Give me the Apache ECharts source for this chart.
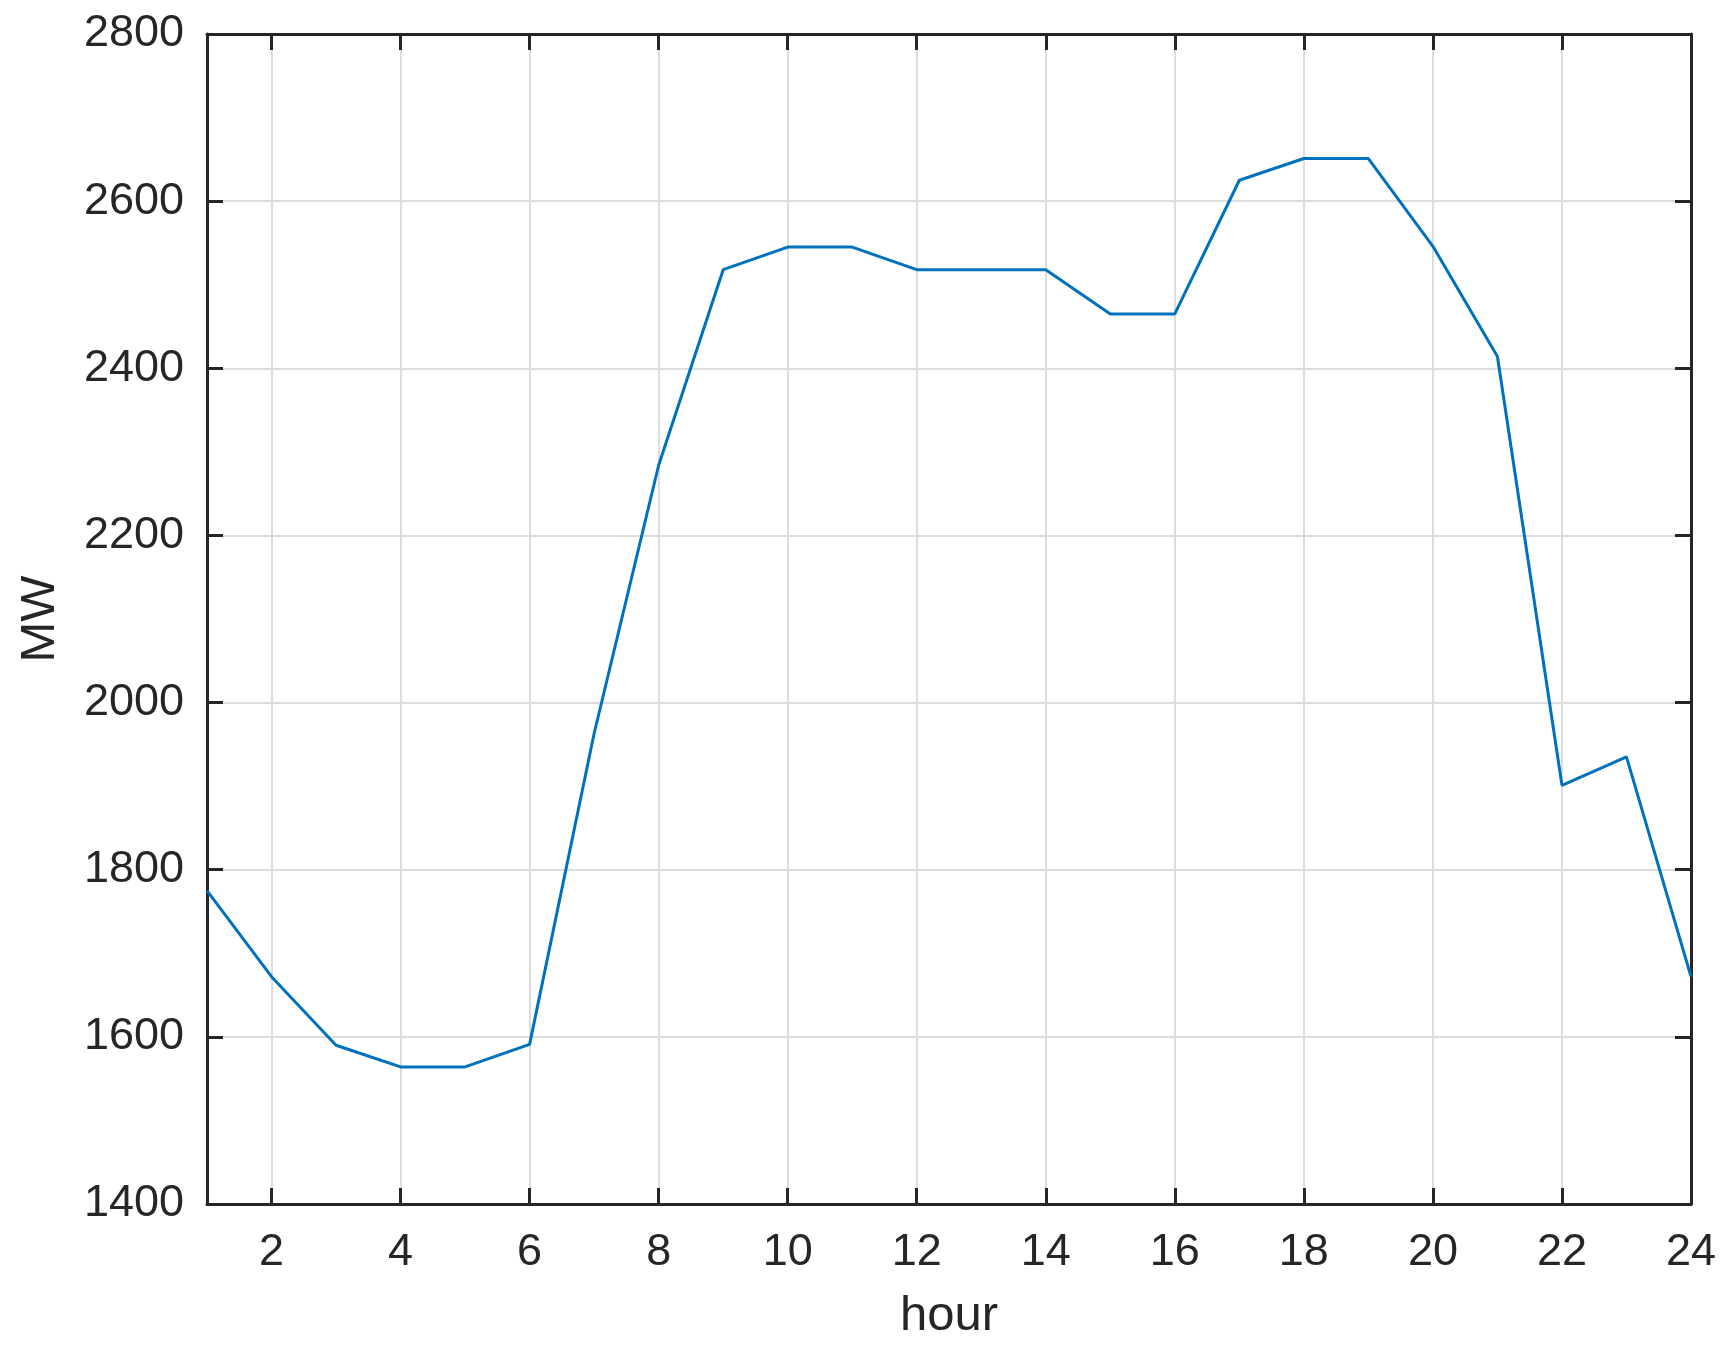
<!DOCTYPE html>
<html>
<head>
<meta charset="utf-8">
<script src="https://cdn.jsdelivr.net/npm/echarts@6/dist/echarts.min.js"></script>
<style>
html,body{margin:0;padding:0;background:#fff;}
#chart{width:1728px;height:1353px;}
</style>
</head>
<body>
<div id="chart"></div>
<script>
const hours = [1,2,3,4,5,6,7,8,9,10,11,12,13,14,15,16,17,18,19,20,21,22,23,24];
const loadMW = [1775,1672,1590,1564,1564,1591,1963,2284,2518,2545,2545,2518,2518,2518,2465,2465,2625,2651,2651,2546,2414,1901,1935,1672];
const yTicks = {min:1400, max:2800, step:200};
const xName = 'hour';
const yName = 'MW';

const FONT = '"Liberation Sans", Arial, Helvetica, sans-serif';
const AX = '#262626';
const GRID = '#dcdcdc';
const evenOnly = (i, v) => Number(v) % 2 === 0;

const chart = echarts.init(document.getElementById('chart'), null, {renderer:'canvas'});
chart.setOption({
  backgroundColor:'#ffffff',
  animation:false,
  grid:{left:207, right:37, top:34, bottom:149, containLabel:false},
  xAxis:[{
    type:'category', data:hours.map(String), boundaryGap:false,
    name:xName, nameLocation:'middle', nameGap:88,
    nameTextStyle:{fontFamily:FONT, fontSize:49, color:AX},
    axisLine:{show:true, lineStyle:{color:AX, width:3}},
    axisTick:{show:true, inside:true, length:16, interval:evenOnly, lineStyle:{color:AX, width:3}},
    axisLabel:{show:true, interval:evenOnly, margin:26, fontFamily:FONT, fontSize:45, color:AX},
    splitLine:{show:true, interval:evenOnly, lineStyle:{color:GRID, width:2}}
  },{
    type:'category', data:hours.map(String), boundaryGap:false, position:'top',
    axisLine:{show:true, lineStyle:{color:AX, width:3}},
    axisTick:{show:true, inside:true, length:16, interval:evenOnly, lineStyle:{color:AX, width:3}},
    axisLabel:{show:false}, splitLine:{show:false}
  }],
  yAxis:[{
    type:'value', min:yTicks.min, max:yTicks.max, interval:yTicks.step,
    name:yName, nameLocation:'middle', nameGap:142, nameRotate:90,
    nameTextStyle:{fontFamily:FONT, fontSize:49, color:AX},
    axisLine:{show:true, lineStyle:{color:AX, width:3}},
    axisTick:{show:true, inside:true, length:16, lineStyle:{color:AX, width:3}},
    axisLabel:{show:true, margin:23, fontFamily:FONT, fontSize:45, color:AX, formatter:v => String(v)},
    splitLine:{show:true, lineStyle:{color:GRID, width:2}}
  },{
    type:'value', min:yTicks.min, max:yTicks.max, interval:yTicks.step, position:'right',
    axisLine:{show:true, lineStyle:{color:AX, width:3}},
    axisTick:{show:true, inside:true, length:16, lineStyle:{color:AX, width:3}},
    axisLabel:{show:false}, splitLine:{show:false}
  }],
  series:[{
    type:'line', xAxisIndex:0, yAxisIndex:0,
    data:loadMW, showSymbol:false, symbol:'none',
    lineStyle:{color:'#0072BD', width:3},
    z:3
  }]
});
</script>
</body>
</html>
